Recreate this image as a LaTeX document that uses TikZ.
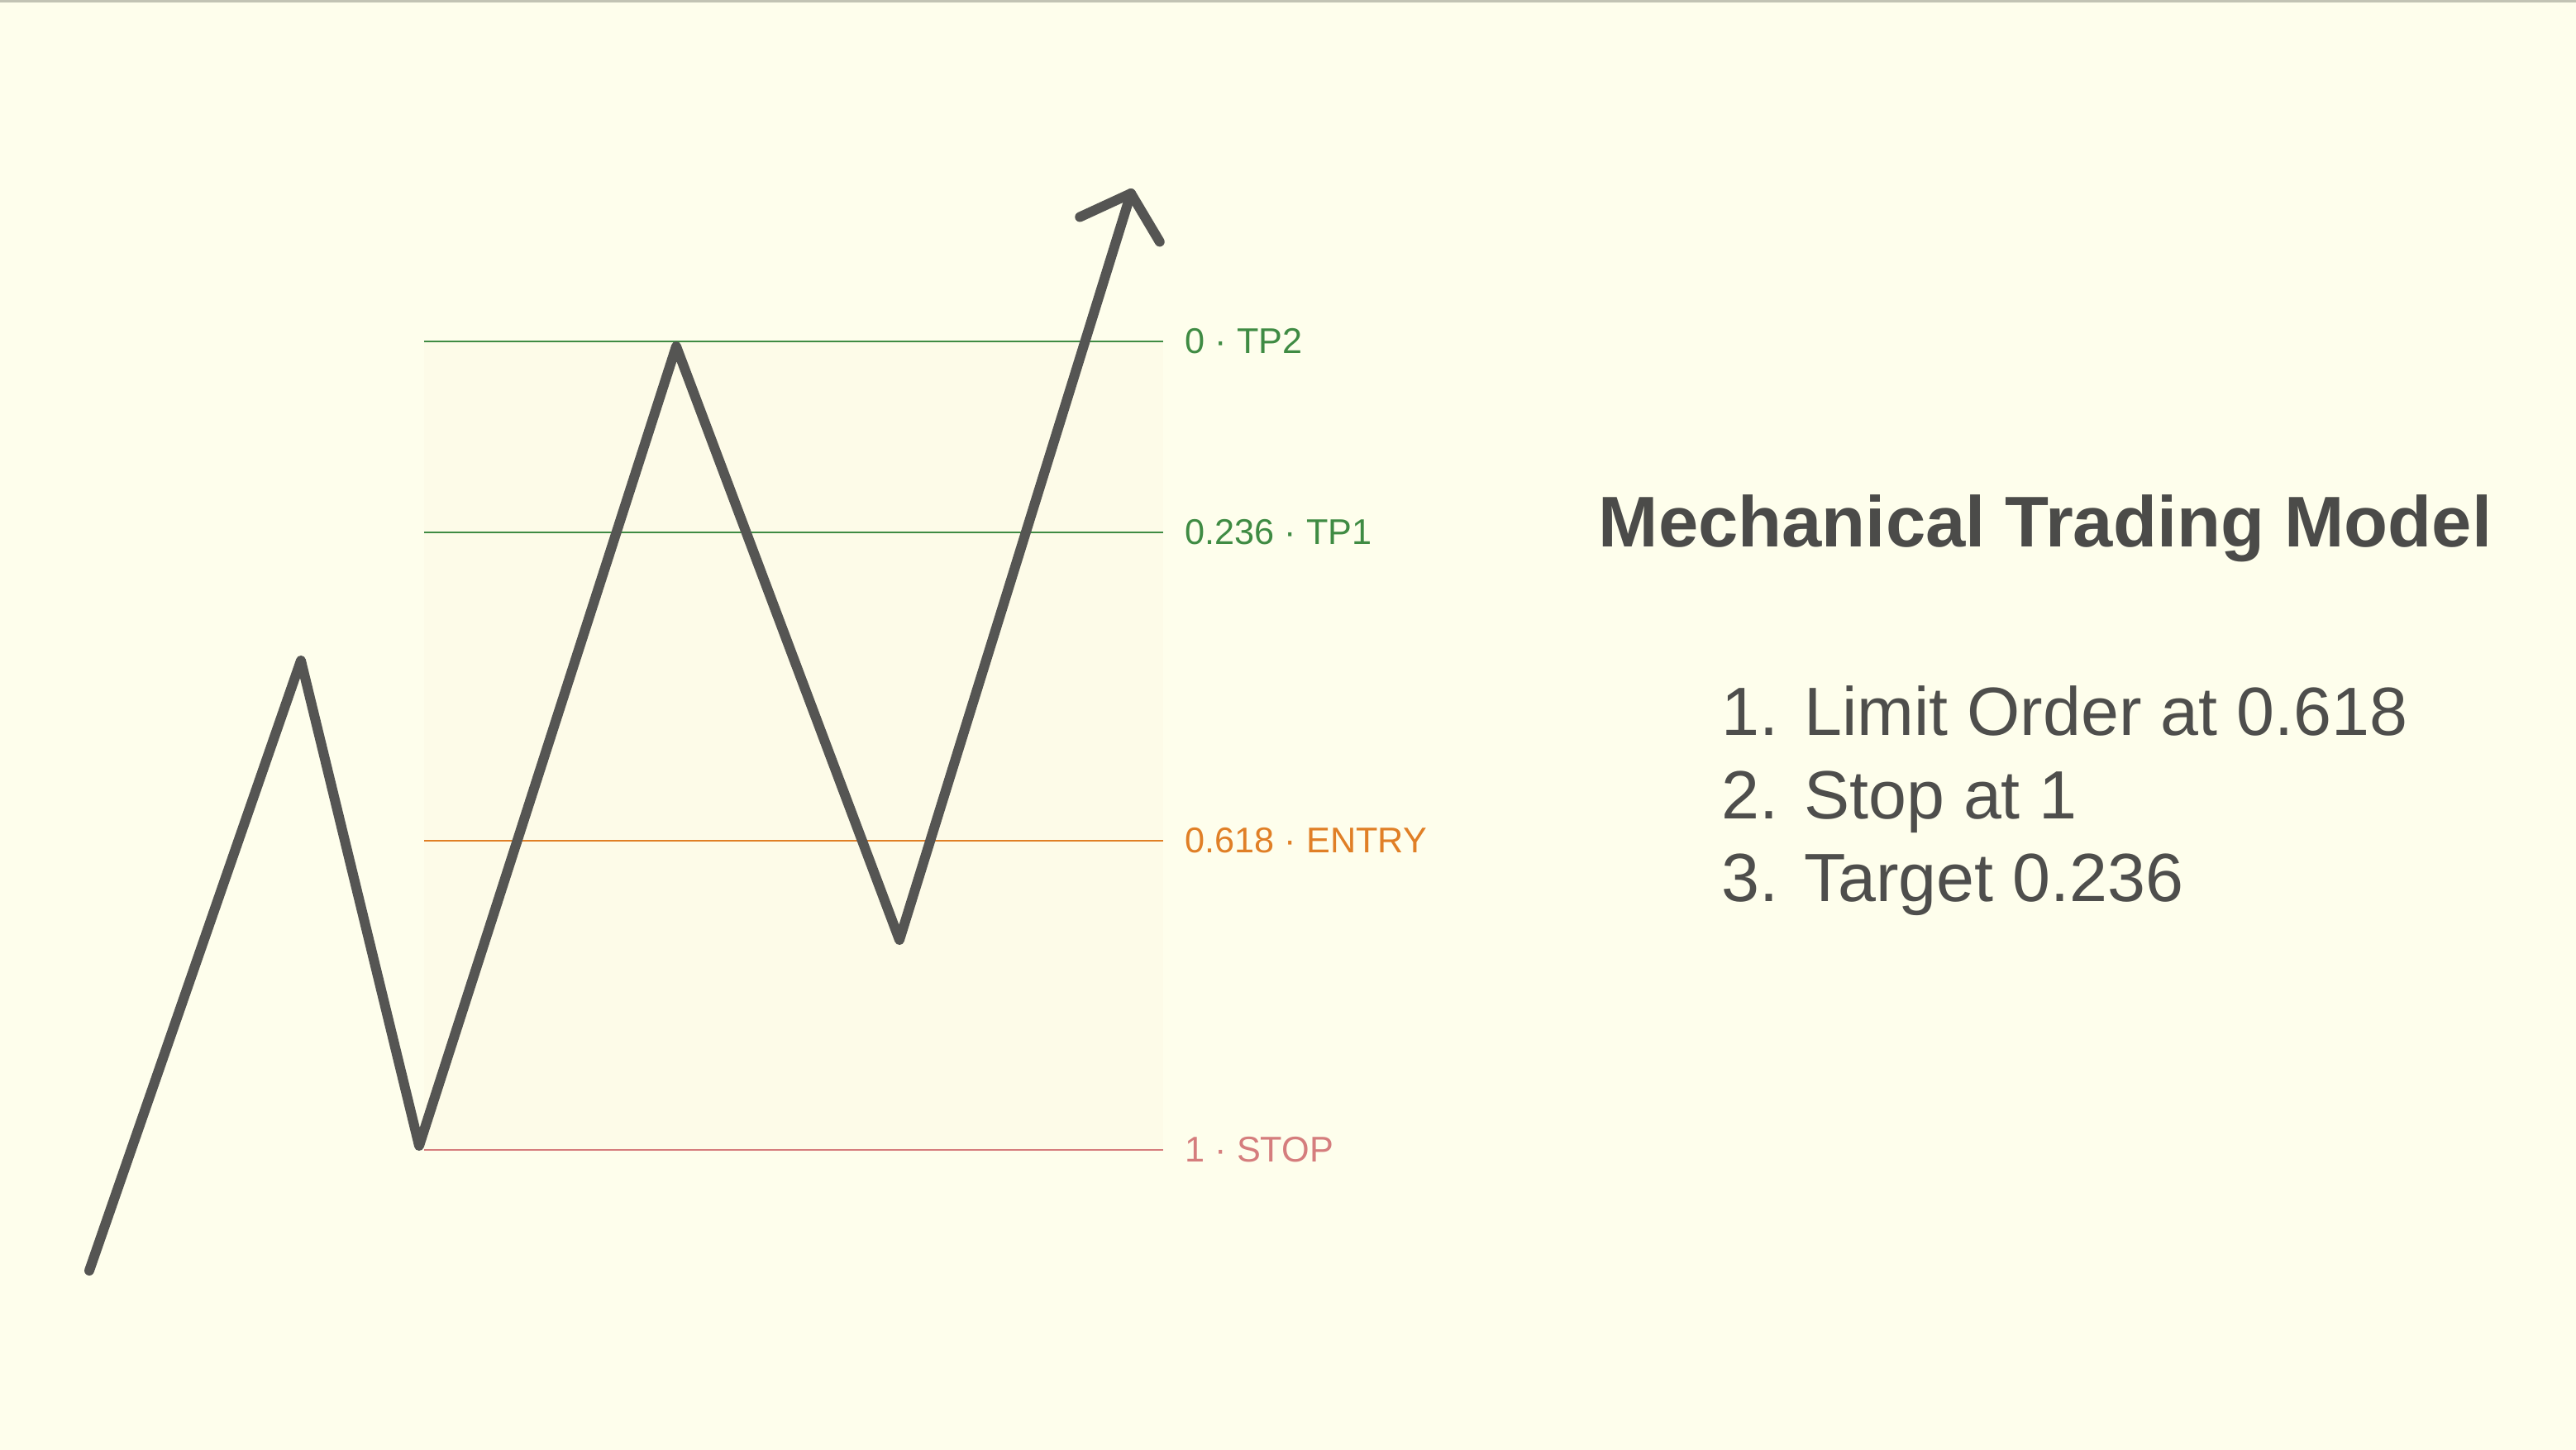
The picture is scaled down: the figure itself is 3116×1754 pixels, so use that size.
\documentclass[tikz,border=0pt]{standalone}
\usepackage{fontspec}
\setmainfont{Liberation Sans}
\usepackage{tikz}
\usetikzlibrary{calc}

\definecolor{paper}{HTML}{FEFEEC}
\definecolor{zone}{HTML}{FDFBE8}
\definecolor{rim}{HTML}{C2C3B4}
\definecolor{ink}{HTML}{555553}
\definecolor{tpgreen}{HTML}{3F8B43}
\definecolor{entryorange}{HTML}{E07F26}
\definecolor{stopred}{HTML}{D57D7D}

\begin{document}
\begin{tikzpicture}[x=0.1mm, y=-0.1mm,
level/.style = {line width=0.6pt},
tag/.style = {anchor=west, inner sep=0pt, font=\fontsize{12.3}{14}\selectfont},
swing/.style = {ink, line width=3.4pt, line cap=round, line join=round},
item/.style = {anchor=base west, inner sep=0pt, text=ink!92!black,
               font=\fontsize{23.5}{28}\selectfont}
                        ]
    \fill[paper] (0,0) rectangle (3116,1754);
    \useasboundingbox (0,0) rectangle (3116,1754);
    \fill[rim] (0,0) rectangle (3116,3);
    \fill[zone] (513,413) rectangle (1407,1391);

    % retracement levels
    \foreach \y/\c/\t [count=\i] in {413/tpgreen/0 · TP2, 644/tpgreen/0.236 · TP1,
                                     1017/entryorange/0.618 · ENTRY, 1391/stopred/1 · STOP}
    {
        \coordinate (lvl\i) at (513,\y);
        \coordinate (end\i) at (1407,\y);
        \draw[level, \c] (lvl\i) -- (end\i);
        \node[tag, text=\c] (tag\i) at (1433,\y) {\t};
    }

    % price swings
    \coordinate (s0) at (108,1537);
    \coordinate (h1) at (364,799);
    \coordinate (l1) at (507,1386);
    \coordinate (h2) at (818,419);
    \coordinate (l2) at (1088,1137);
    \coordinate (tip) at (1368,234);

    \draw[swing] (s0) -- (h1) -- (l1) -- (h2) -- (l2) -- (tip);
    \draw[swing] ($(tip)!6.8mm!48:(l2)$) -- (tip) -- ($(tip)!6.8mm!-48:(l2)$);

    \node[anchor=base west, inner sep=0pt, text=ink!88!black,
          font=\bfseries\fontsize{24.7}{29}\selectfont] (title) at (1933,662)
          {Mechanical Trading Model};

    \foreach \t [count=\i] in {1. Limit Order at 0.618, 2. Stop at 1, 3. Target 0.236}
        \node[item] (step\i) at (2082,790+100*\i) {\t};
\end{tikzpicture}
\end{document}
